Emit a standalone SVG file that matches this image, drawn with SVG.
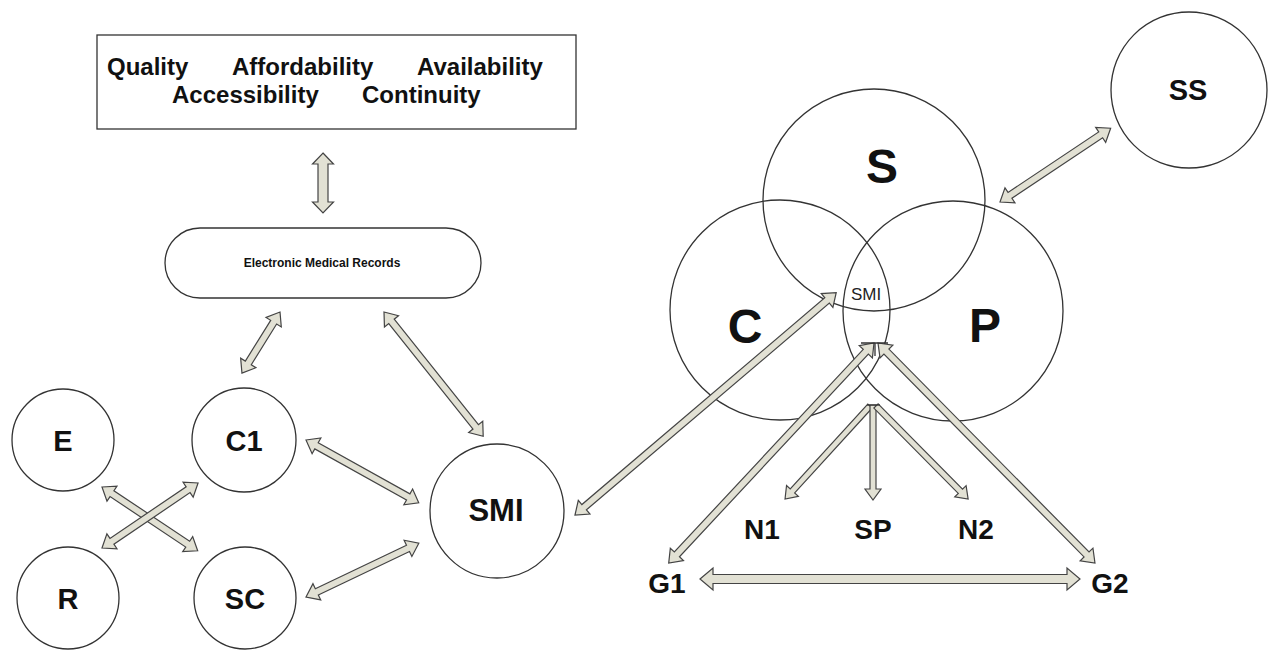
<svg xmlns="http://www.w3.org/2000/svg" width="1269" height="650" viewBox="0 0 1269 650">
<style>
.bg{fill:#ffffff}
.node{fill:#ffffff;stroke:#333333;stroke-width:1.3}
.venn{fill:none;stroke:#333333;stroke-width:1.3}
.arr{fill:#e2e1d4;stroke:#444444;stroke-width:1.2;stroke-linejoin:miter}
.tick{fill:none;stroke:#333333;stroke-width:1.3}
.lbl{font-family:"Liberation Sans",Arial,sans-serif;font-weight:bold;fill:#111111;text-anchor:middle}
.big{font-size:48px}
.mid{font-size:29px}
.sm{font-size:28px}
.box{font-family:"Liberation Sans",Arial,sans-serif;font-weight:bold;font-size:24px;fill:#111111}
</style>
<rect class="bg" x="0" y="0" width="1269" height="650"/>

<g id="goals">
<rect class="node" x="97" y="35" width="479" height="94"/>
<text class="box" x="107" y="75">Quality</text>
<text class="box" x="232" y="75">Affordability</text>
<text class="box" x="417" y="75">Availability</text>
<text class="box" x="172" y="103">Accessibility</text>
<text class="box" x="362" y="103">Continuity</text>
</g>

<g id="emr">
<rect class="node" x="165" y="228" width="316" height="70" rx="35" ry="35"/>
<text class="lbl" x="322" y="267" font-size="12">Electronic Medical Records</text>
</g>

<g id="node-E"><circle class="node" cx="63" cy="440" r="51"/><text class="lbl mid" x="63" y="451">E</text></g>
<g id="node-C1"><circle class="node" cx="244" cy="440" r="52"/><text class="lbl mid" x="244" y="451">C1</text></g>
<g id="node-R"><circle class="node" cx="68" cy="598" r="51"/><text class="lbl mid" x="68" y="609">R</text></g>
<g id="node-SC"><circle class="node" cx="245" cy="598" r="51"/><text class="lbl mid" x="245" y="609">SC</text></g>
<g id="node-SMI"><circle class="node" cx="497" cy="511" r="67"/><text class="lbl" x="496" y="521" font-size="31">SMI</text></g>
<g id="node-SS"><circle class="node" cx="1189" cy="90" r="78"/><text class="lbl mid" x="1188" y="100">SS</text></g>

<g id="venn">
<circle class="venn" cx="874" cy="200" r="111"/>
<circle class="venn" cx="780" cy="310" r="110"/>
<circle class="venn" cx="953" cy="311" r="110"/>
<text class="lbl big" x="882" y="183">S</text>
<text class="lbl big" x="745" y="343">C</text>
<text class="lbl big" x="985" y="342">P</text>
<text x="866" y="300" font-family="'Liberation Sans',Arial,sans-serif" font-size="17" fill="#222222" text-anchor="middle">SMI</text>
</g>

<g id="node-N1"><text class="lbl sm" x="762" y="539">N1</text></g>
<g id="node-SP"><text class="lbl sm" x="873" y="539">SP</text></g>
<g id="node-N2"><text class="lbl sm" x="976" y="539">N2</text></g>
<g id="node-G1"><text class="lbl sm" x="667" y="593">G1</text></g>
<g id="node-G2"><text class="lbl sm" x="1110" y="593">G2</text></g>

<g id="connectors">
<path class="arr" transform="translate(323,153) rotate(90)" d="M0,0 L11,-10.5 L11,-5 L49,-5 L49,-10.5 L60,0 L49,10.5 L49,5 L11,5 L11,10.5 Z"/>
<path class="arr" transform="translate(280,312) rotate(121.9)" d="M0,0 L12,-9 L12,-3.5 L60,-3.5 L60,-9 L72,0 L60,9 L60,3.5 L12,3.5 L12,9 Z"/>
<path class="arr" transform="translate(384,312) rotate(51.4)" d="M0,0 L12,-9 L12,-3.5 L147,-3.5 L147,-9 L159,0 L147,9 L147,3.5 L12,3.5 L12,9 Z"/>
<path class="arr" transform="translate(102,487) rotate(33.7)" d="M0,0 L12,-9 L12,-3.5 L103,-3.5 L103,-9 L115,0 L103,9 L103,3.5 L12,3.5 L12,9 Z"/>
<path class="arr" transform="translate(102,548) rotate(-34.1)" d="M0,0 L12,-9 L12,-3.5 L104,-3.5 L104,-9 L116,0 L104,9 L104,3.5 L12,3.5 L12,9 Z"/>
<path class="arr" transform="translate(306,440) rotate(29.1)" d="M0,0 L12,-9 L12,-3.5 L117,-3.5 L117,-9 L129,0 L117,9 L117,3.5 L12,3.5 L12,9 Z"/>
<path class="arr" transform="translate(306,597) rotate(-25.5)" d="M0,0 L12,-9 L12,-3.5 L113,-3.5 L113,-9 L125,0 L113,9 L113,3.5 L12,3.5 L12,9 Z"/>
<path class="arr" transform="translate(575,515) rotate(-40.4)" d="M0,0 L12,-9 L12,-3.5 L331,-3.5 L331,-9 L343,0 L331,9 L331,3.5 L12,3.5 L12,9 Z"/>
<path class="arr" transform="translate(874,343) rotate(133)" d="M0,0 L12,-9 L12,-3.5 L289,-3.5 L289,-9 L301,0 L289,9 L289,3.5 L12,3.5 L12,9 Z"/>
<path class="arr" transform="translate(878,343) rotate(45.4)" d="M0,0 L12,-9 L12,-3.5 L297,-3.5 L297,-9 L309,0 L297,9 L297,3.5 L12,3.5 L12,9 Z"/>
<path class="arr" transform="translate(1000,202) rotate(-33.7)" d="M0,0 L12,-9 L12,-3.5 L121,-3.5 L121,-9 L133,0 L121,9 L121,3.5 L12,3.5 L12,9 Z"/>
<path class="arr" transform="translate(700,579)" d="M0,0 L13,-11 L13,-4.5 L367,-4.5 L367,-11 L380,0 L367,11 L367,4.5 L13,4.5 L13,11 Z"/>
<path class="arr" transform="translate(870,406) rotate(132.4)" d="M0,-3 L115,-3 L115,-8 L126,0 L115,8 L115,3 L0,3 Z"/>
<path class="arr" transform="translate(873,405) rotate(90)" d="M0,-3 L84,-3 L84,-8 L95,0 L84,8 L84,3 L0,3 Z"/>
<path class="arr" transform="translate(876,406) rotate(45.3)" d="M0,-3 L120,-3 L120,-8 L131,0 L120,8 L120,3 L0,3 Z"/>
<path class="tick" d="M861,343 L888,343 M875,343 L875,356"/>
<path class="tick" d="M867,405 L880,405"/>
</g>
</svg>
